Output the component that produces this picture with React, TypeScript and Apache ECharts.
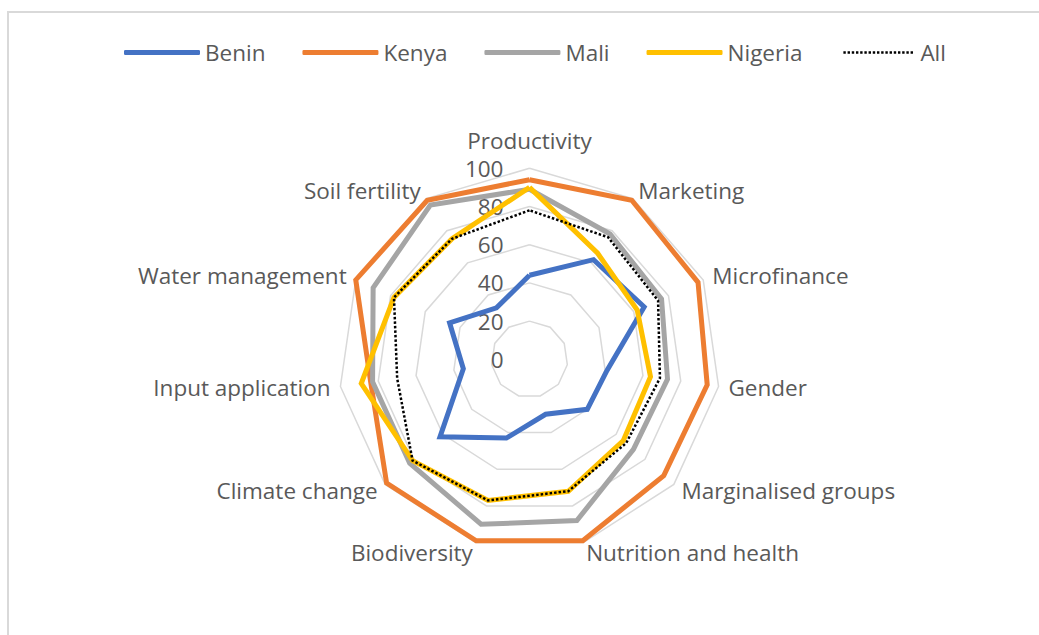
import React, { useEffect, useRef } from "react";
import * as echarts from "echarts";

// Categories listed clockwise from the top, as in the reference
const categories = [
  "Productivity",
  "Marketing",
  "Microfinance",
  "Gender",
  "Marginalised groups",
  "Nutrition and health",
  "Biodiversity",
  "Climate change",
  "Input application",
  "Water management",
  "Soil fertility",
];
const benin = [44, 62, 66, 41, 40, 30, 43, 62, 35, 46, 32];
const kenya = [94, 99, 97, 94, 93, 99, 99, 99, 84, 100, 99];
const mali = [89, 78, 76, 73, 72, 88, 90, 83, 83, 90, 96];
const nigeria = [90, 66, 62, 64, 65, 72, 77, 81, 89, 78, 75];
const allValues = [78, 76, 74, 69, 67, 72, 77, 81, 70, 78, 75];
const seriesNames = ["Benin", "Kenya", "Mali", "Nigeria", "All"];

const FONT = "Open Sans";
const TEXT = "#595959";
const FS = 22.5;

function dottedIcon(): string {
  let d = "path://M0,0M76,5";
  for (let x = 4; x < 72; x += 4.2) {
    d += `M${x.toFixed(1)},1.3h2.4v2.4h-2.4z`;
  }
  return d;
}

// ECharts places radar indicators counter-clockwise; reorder so they run clockwise
function clockwise<T>(arr: T[]): T[] {
  return [arr[0], ...arr.slice(1).reverse()];
}

export default function App() {
  const ref = useRef<HTMLDivElement>(null);
  useEffect(() => {
    if (!ref.current) return;
    const chart = echarts.init(ref.current, undefined, { renderer: "svg" });
    const indicator = clockwise(categories).map((name, i) =>
      i === 0
        ? { name, min: 0, max: 100, axisLabel: { show: true } }
        : { name, min: 0, max: 100 }
    );
    const colors = ["#4472C4", "#ED7D31", "#A5A5A5", "#FFC000", "#000000"];
    const values = [benin, kenya, mali, nigeria, allValues];
    chart.setOption({
      animation: false,
      backgroundColor: "#ffffff",
      textStyle: { fontFamily: FONT },
      graphic: [
        {
          type: "rect",
          shape: { x: 8, y: 12, width: 1100, height: 700 },
          style: { fill: "none", stroke: "#d9d9d9", lineWidth: 2 },
          silent: true,
        },
      ],
      legend: {
        top: 36,
        left: 119,
        itemWidth: 76,
        itemHeight: 5,
        itemGap: 37,
        textStyle: { fontSize: FS, color: TEXT, fontFamily: FONT },
        data: seriesNames.map((n, i) => ({
          name: n,
          icon: i === 4 ? dottedIcon() : "roundRect",
          itemStyle: { color: colors[i] },
        })),
        selectedMode: false,
      },
      radar: {
        center: [529.5, 359.3],
        radius: 191,
        startAngle: 90,
        splitNumber: 5,
        shape: "polygon",
        indicator,
        nameGap: 10,
        axisName: {
          color: TEXT,
          fontSize: FS,
          fontFamily: FONT,
          formatter: (name: string) => (name === "Productivity" ? `{t|${name}}` : name),
          rich: {
            t: { color: TEXT, fontSize: FS, fontFamily: FONT, padding: [0, 0, 6, 0] },
          },
        },
        axisLine: { show: false },
        axisTick: { show: false },
        axisLabel: {
          show: false,
          color: TEXT,
          fontSize: FS,
          fontFamily: FONT,
          margin: 26,
          showMinLabel: true,
          showMaxLabel: true,
        },
        splitLine: { lineStyle: { color: "#d9d9d9", width: 1.5 } },
        splitArea: { show: false },
      },
      series: [
        {
          type: "radar",
          symbol: "none",
          silent: true,
          data: seriesNames.map((n, i) => ({
            name: n,
            value: clockwise(values[i]),
            symbol: "none",
            lineStyle: {
              color: colors[i],
              width: i === 4 ? 2.5 : 5,
              type: i === 4 ? [2.5, 2] : "solid",
              join: "miter",
            },
            itemStyle: { color: colors[i] },
          })),
        },
      ],
    });
    return () => chart.dispose();
  }, []);
  return (
    <div
      ref={ref}
      style={{ position: "fixed", left: 0, top: 0, width: 1039, height: 635 }}
    />
  );
}
